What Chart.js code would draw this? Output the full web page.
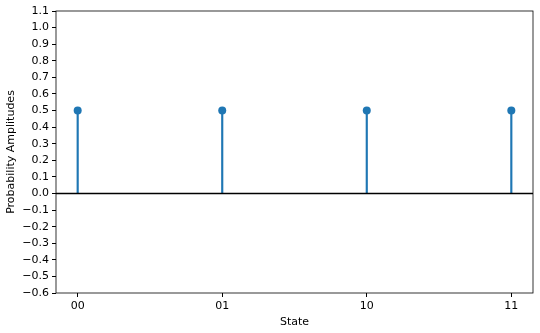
<!DOCTYPE html>
<html>
<head>
<meta charset="utf-8">
<script src="https://cdn.jsdelivr.net/npm/chart.js@4/dist/chart.umd.min.js"></script>
<style>
  html, body { margin: 0; padding: 0; background: #fff; }
  #wrap { width: 540px; height: 333px; }
</style>
</head>
<body>
<div id="wrap"><canvas id="graph"></canvas></div>
<script>
// stem plot: amplitude of each basis state
const states = ['00', '01', '10', '11']
const amplitudes = [0.5, 0.5, 0.5, 0.5]
const yTicks = [-0.6, -0.5, -0.4, -0.3, -0.2, -0.1, 0.0, 0.1, 0.2, 0.3, 0.4, 0.5, 0.6, 0.7, 0.8, 0.9, 1.0, 1.1]

const blue = '#1f77b4'
const pts = states.map((s, i) => ({ x: i, y: amplitudes[i] }))

// spines + y=0 baseline
const frame = {
  id: 'frame',
  afterDatasetsDraw(chart) {
    const { ctx, chartArea: a, scales } = chart
    const y0 = scales.y.getPixelForValue(0)
    ctx.save()
    ctx.strokeStyle = '#000'
    ctx.lineWidth = 1.5
    ctx.beginPath()
    ctx.moveTo(a.left, y0)
    ctx.lineTo(a.right, y0)
    ctx.stroke()
    ctx.lineWidth = 0.8
    ctx.strokeRect(a.left, a.top, a.right - a.left, a.bottom - a.top)
    ctx.restore()
  }
}

Chart.defaults.font.family = 'DejaVu Sans'
Chart.defaults.font.size = 11
Chart.defaults.color = '#000'

new Chart(document.getElementById('graph'), {
  type: 'bar',
  data: {
    datasets: [
      {
        type: 'scatter',
        data: pts,
        backgroundColor: blue,
        borderWidth: 0,
        pointRadius: 4,
        order: 0
      },
      {
        type: 'bar',
        data: pts,
        backgroundColor: blue,
        barThickness: 1.5,
        order: 1
      }
    ]
  },
  options: {
    responsive: true,
    maintainAspectRatio: false,
    animation: false,
    layout: { padding: { left: 0, top: 11, right: 7, bottom: 0 } },
    plugins: { legend: { display: false }, tooltip: { enabled: false } },
    scales: {
      x: {
        type: 'linear',
        offset: false,
        min: -0.15,
        max: 3.15,
        afterBuildTicks: s => { s.ticks = states.map((t, i) => ({ value: i })) },
        afterFit: s => { s.height = 40 },
        ticks: {
          autoSkip: false,
          maxRotation: 0,
          padding: 3,
          callback: v => states[v]
        },
        grid: { offset: false, drawOnChartArea: false, tickLength: 4, tickColor: '#000' },
        border: { display: false },
        title: { display: true, text: 'State', padding: { top: 2, bottom: 4 } }
      },
      y: {
        min: -0.6,
        max: 1.1,
        afterBuildTicks: s => { s.ticks = yTicks.map(v => ({ value: v })) },
        afterFit: s => { s.width = 56 },
        ticks: {
          autoSkip: false,
          padding: 3,
          callback: v => v.toFixed(1).replace('-', '\u2212')
        },
        grid: { offset: false, drawOnChartArea: false, tickLength: 4, tickColor: '#000' },
        border: { display: false },
        title: { display: true, text: 'Probability Amplitudes', padding: { top: 5, bottom: 2 } }
      }
    }
  },
  plugins: [frame]
})
</script>
</body>
</html>
